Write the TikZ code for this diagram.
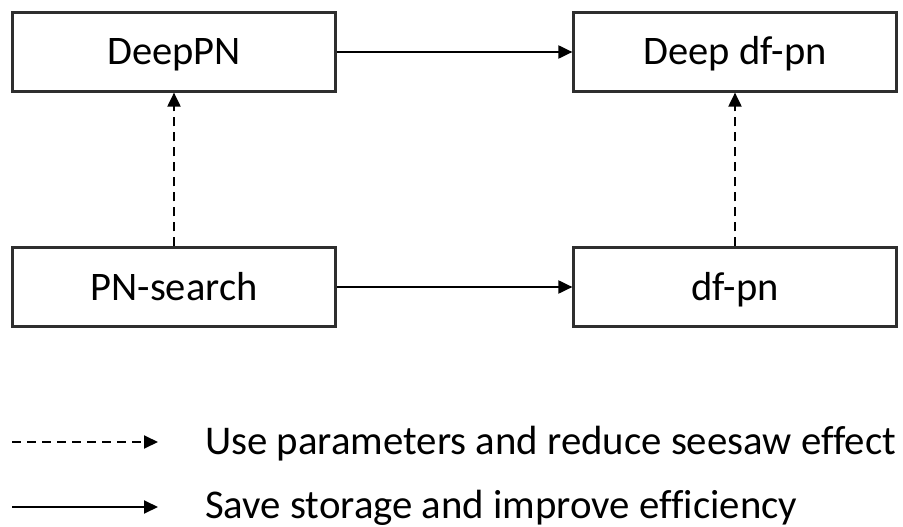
\documentclass[tikz,border=0pt]{standalone}
\usepackage{fontspec}
\setmainfont[Ligatures=NoCommon]{Carlito}
\usetikzlibrary{arrows.meta}
\definecolor{linegray}{HTML}{2E2E2E}
\begin{document}
\begin{tikzpicture}[x=1pt,y=-1pt,
  box/.style={draw=linegray, line width=2.2pt, rectangle, minimum width=323pt, minimum height=79pt,
    inner sep=0pt, text height=26pt, text depth=0pt, font=\fontsize{40.5}{48}\selectfont},
  conn/.style={draw=black, line width=2pt, -{Triangle[length=14pt,width=13pt]}},
  dconn/.style={conn, dash pattern=on 9pt off 6pt},
  legtext/.style={anchor=base west, inner sep=0pt, font=\fontsize{40.8}{48}\selectfont}]
\useasboundingbox (0,0) rectangle (903,527);
\node[box] (deeppn) at (174,52) {DeepPN};
\node[box] (deepdfpn) at (735,52) {Deep df-pn};
\node[box] (pnsearch) at (174,287) {PN-search};
\node[box] (dfpn) at (735,287) {df-pn};
\draw[conn] (deeppn) -- (deepdfpn);
\draw[conn] (pnsearch) -- (dfpn);
\draw[dconn] (pnsearch) -- (deeppn);
\draw[dconn] (dfpn) -- (deepdfpn);
\coordinate (l1s) at (12,442);
\coordinate (l1e) at (158,442);
\coordinate (l2s) at (12,507);
\coordinate (l2e) at (158,507);
\draw[dconn] (l1s) -- (l1e);
\draw[conn] (l2s) -- (l2e);
\node[legtext] (t1) at (205,454) {Use parameters and reduce seesaw effect};
\node[legtext] (t2) at (205,518) {Save storage and improve efficiency};
\end{tikzpicture}
\end{document}
